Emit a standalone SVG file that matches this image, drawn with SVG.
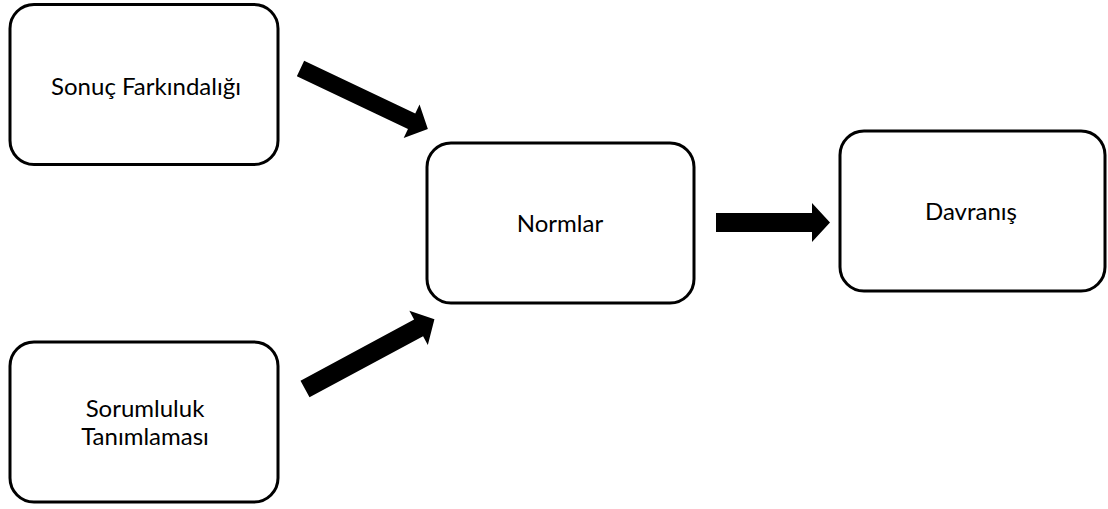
<svg xmlns="http://www.w3.org/2000/svg" width="1108" height="509" viewBox="0 0 1108 509">
  <style>
    .box { fill: #ffffff; stroke: #000000; stroke-width: 3; }
    .label { font-family: Lato, "Open Sans", "Liberation Sans", sans-serif; font-size: 24px; fill: #000000; text-anchor: middle; }
    .arrow { fill: #000000; }
  </style>
  <rect width="1108" height="509" fill="#ffffff"/>

  <g id="connectors">
    <!-- Sonuç Farkındalığı -> Normlar -->
    <polygon class="arrow" transform="translate(300.5,68.5) rotate(25.4)" points="0,-8.5 123,-8.5 123,-18.5 141,0 123,18.5 123,8.5 0,8.5"/>
    <!-- Sorumluluk Tanımlaması -> Normlar -->
    <polygon class="arrow" transform="translate(305,389) rotate(-28.3)" points="0,-9.5 129,-9.5 129,-19.5 147,0 129,19.5 129,9.5 0,9.5"/>
    <!-- Normlar -> Davranış -->
    <polygon class="arrow" points="716,213 812,213 812,203 830,222.5 812,242 812,232 716,232"/>
  </g>

  <g id="node-sonuc">
    <rect class="box" x="10" y="4.5" width="268" height="160" rx="24"/>
    <text class="label" x="146" y="95">Sonuç Farkındalığı</text>
  </g>

  <g id="node-sorumluluk">
    <rect class="box" x="10" y="342" width="268" height="160" rx="24"/>
    <text class="label" x="145" y="417">Sorumluluk</text>
    <text class="label" x="145" y="445">Tanımlaması</text>
  </g>

  <g id="node-normlar">
    <rect class="box" x="427" y="143" width="267" height="160" rx="24"/>
    <text class="label" x="560" y="232">Normlar</text>
  </g>

  <g id="node-davranis">
    <rect class="box" x="840" y="131" width="265" height="160" rx="24"/>
    <text class="label" x="971" y="220">Davranış</text>
  </g>
</svg>
